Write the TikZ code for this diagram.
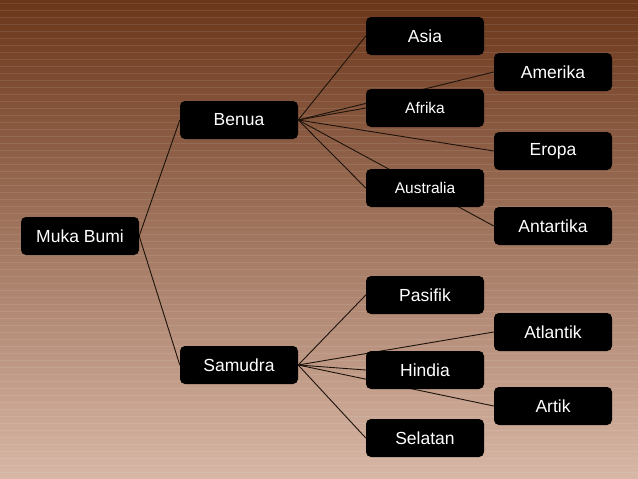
\documentclass[tikz,border=0pt]{standalone}
\usepackage{fontspec}
\setmainfont{Liberation Sans}
\pgfdeclarelayer{bg}
\pgfdeclarelayer{edges}
\pgfsetlayers{bg,edges,main}
\begin{document}
\begin{tikzpicture}[x=1pt,y=-1pt,
  box/.style={fill=black, rounded corners=5pt, minimum width=118pt, minimum height=38pt, inner sep=0pt, text=white, font=\fontsize{17.5}{20}\selectfont},
  boxsmall/.style={box, font=\fontsize{15.5}{18}\selectfont},
  link/.style={draw=black!85!brown, line width=0.9pt}]
\definecolor{bgtop}{HTML}{6B361A}
\definecolor{bgmid}{HTML}{A56D50}
\definecolor{bgbot}{HTML}{D8B7A6}
\useasboundingbox (0,0) rectangle (638,479);
\begin{pgfonlayer}{bg}
\shade[top color=bgtop, middle color=bgmid, bottom color=bgbot] (0,0) rectangle (638,479);
\foreach \i in {0,...,68} \draw[white, opacity=0.09, line width=0.7pt] (0,{\i*7+3}) -- (638,{\i*7+3});
\end{pgfonlayer}
\node[box] (muka) at (80,236) {Muka Bumi};
\node[box] (benua) at (239,120) {Benua};
\node[box] (samudra) at (239,365) {Samudra};
\node[box] (asia) at (425,36) {Asia};
\node[boxsmall] (afrika) at (425,108) {Afrika};
\node[boxsmall] (australia) at (425,188) {Australia};
\node[box] (amerika) at (553,72) {Amerika};
\node[box] (eropa) at (553,151) {Eropa};
\node[box] (antartika) at (553,226) {Antartika};
\node[box] (pasifik) at (425,295) {Pasifik};
\node[box] (hindia) at (425,370) {Hindia};
\node[box] (selatan) at (425,438) {Selatan};
\node[box] (atlantik) at (553,332) {Atlantik};
\node[box] (artik) at (553,406) {Artik};
\begin{pgfonlayer}{edges}
\draw[link] (muka.east) -- (benua.west);
\draw[link] (muka.east) -- (samudra.west);
\foreach \c in {asia,afrika,australia,amerika,eropa,antartika}
  \draw[link] (benua.east) -- (\c.west);
\foreach \c in {pasifik,hindia,selatan,atlantik,artik}
  \draw[link] (samudra.east) -- (\c.west);
\end{pgfonlayer}
\end{tikzpicture}
\end{document}
